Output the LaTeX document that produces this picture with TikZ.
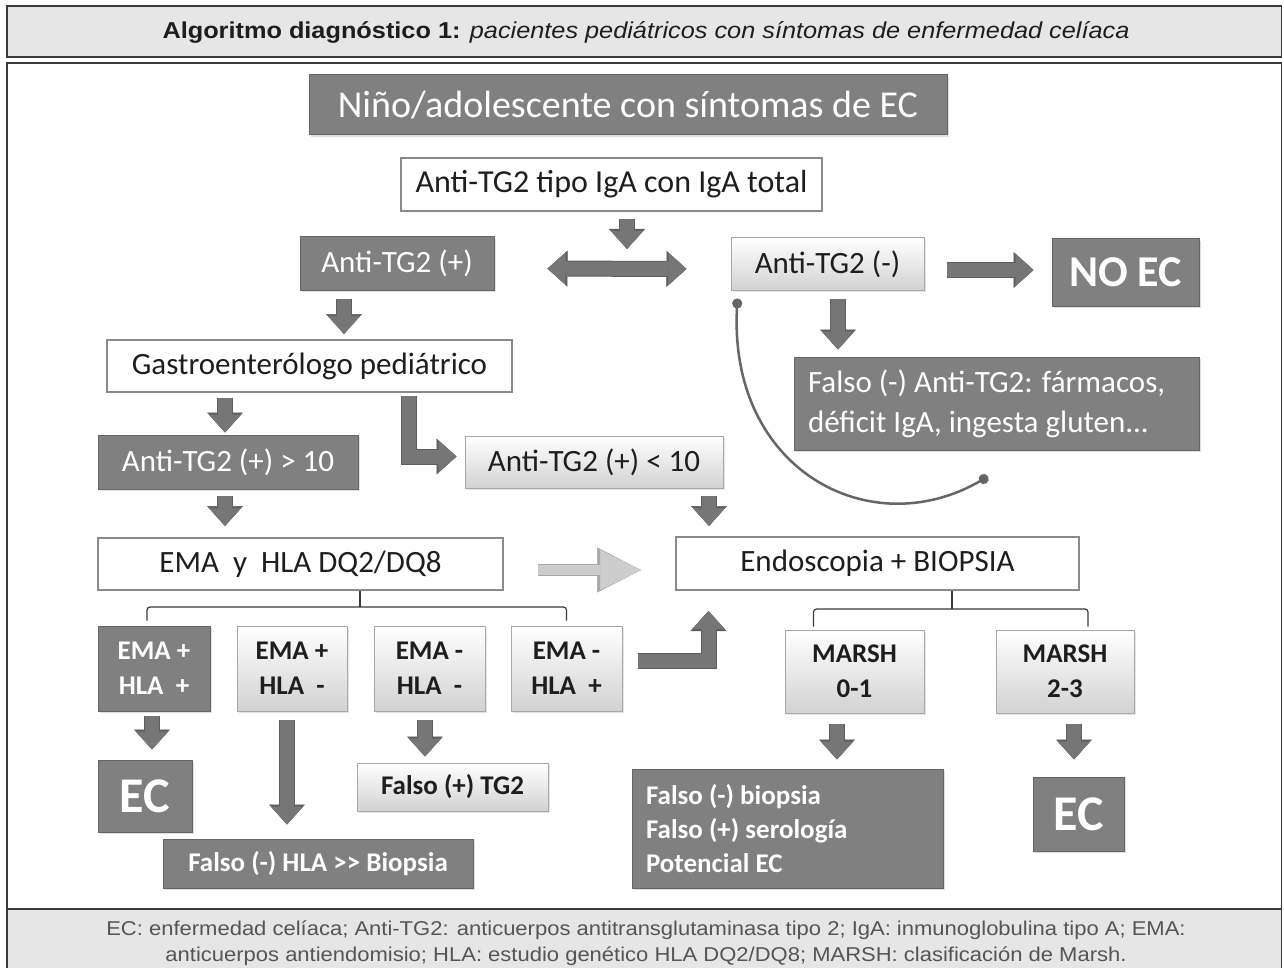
\documentclass[tikz,border=0pt]{standalone}
\usepackage{fontspec}
\setmainfont{Carlito}
\newfontfamily\headfont[FakeStretch=1.1]{Liberation Sans}
\newfontfamily\notefont[FakeStretch=1.1]{Liberation Sans}
\usetikzlibrary{arrows.meta,shadows}
\usepackage{xcolor}
\definecolor{darkfill}{HTML}{808080}
\definecolor{darkline}{HTML}{666666}
\definecolor{lightbot}{HTML}{D2D2D2}
\definecolor{lightline}{HTML}{A8A8A8}
\definecolor{whiteline}{HTML}{8A8A8A}
\definecolor{textdark}{HTML}{1E1E1E}
\definecolor{arrowfill}{HTML}{767676}
\definecolor{arrowline}{HTML}{5E5E5E}
\definecolor{lightarr}{HTML}{CDCDCD}
\definecolor{framegray}{HTML}{E6E6E6}
\definecolor{framedark}{HTML}{3A3A3A}
\definecolor{notegray}{HTML}{555555}
\definecolor{curvegray}{HTML}{666666}

\tikzset{
  box/.style={inner sep=0pt, font=\fontsize{31}{38}\selectfont},
  darkbox/.style={box, fill=darkfill, draw=darkline, line width=1pt, text=white,
    drop shadow={shadow xshift=1.5pt, shadow yshift=-2pt, opacity=.25}},
  lightbox/.style={box, top color=white, bottom color=lightbot, draw=lightline, line width=1pt, text=textdark,
    drop shadow={shadow xshift=1.5pt, shadow yshift=-2pt, opacity=.2}},
  whitebox/.style={box, fill=white, draw=whiteline, line width=2pt, text=textdark},
  boldtxt/.style={font=\fontsize{27}{35}\selectfont\bfseries},
  bigtxt/.style={font=\fontsize{50}{50}\selectfont\bfseries},
  blktip/.tip={Triangle[length=18pt 0 0, width=32pt 0 0, line width=0.5pt 0 0]},
  blkout/.tip={Triangle[length=20pt 0 0, width=36pt 0 0, line width=0.5pt 0 0]},
  blkbase/.style={draw=arrowfill, line width=14pt, line join=miter},
  blk/.style={blkbase, -blktip, preaction={draw=arrowline, line width=16pt, -blkout}},
  blk2/.style={blkbase, blktip-blktip, preaction={draw=arrowline, line width=16pt, blkout-blkout}},
  lblk/.style={draw=lightarr, line width=10pt, -{Triangle[length=41pt 0 0, width=40pt 0 0, line width=0.5pt 0 0]},
    preaction={draw=lightline, line width=12pt, -{Triangle[length=44pt 0 0, width=45pt 0 0, line width=0.5pt 0 0]}}},
  brk/.style={draw=framedark, line width=1.2pt, rounded corners=3pt},
  crv/.style={draw=curvegray, line width=2.5pt, {Circle[length=10pt 0 0]}-{Circle[length=10pt 0 0]}}
}

\begin{document}
\begin{tikzpicture}[x=1pt,y=-1pt]
	\useasboundingbox (0,0) rectangle (1284,968);
	\draw[fill=framegray, draw=framedark, line width=1.5pt] (7,6) rectangle (1281.5,57);
	\draw[fill=white, draw=framedark, line width=1.8pt] (7,63) rectangle (1281.5,909);
	\draw[fill=framegray, draw=framedark, line width=1.5pt] (7,980) -- (7,909) -- (1281.5,909) -- (1281.5,980);
	\node (title) [text=textdark, font=\headfont\fontsize{23}{27}\selectfont] at (646,32) {\textbf{Algoritmo diagnóstico 1:} \textit{pacientes pediátricos con síntomas de enfermedad celíaca}};
	\node (note) [text=notegray, align=center, font=\notefont\fontsize{20}{26}\selectfont] at (646,943) {EC: enfermedad celíaca; Anti-TG2: anticuerpos antitransglutaminasa tipo 2; IgA: inmunoglobulina tipo A; EMA:\\anticuerpos antiendomisio; HLA: estudio genético HLA DQ2/DQ8; MARSH: clasificación de Marsh.};

	\node (nino) [darkbox, font=\fontsize{38}{44}\selectfont, minimum width=638pt, minimum height=60pt] at (628,105) {Niño/adolescente con síntomas de EC};
	\node (tipo) [whitebox, font=\fontsize{32}{38}\selectfont, minimum width=421pt, minimum height=53pt] at (611.5,184.5) {Anti-TG2 tipo IgA con IgA total};
	\node (pos) [darkbox, minimum width=194pt, minimum height=53pt] at (397,263.5) {Anti-TG2 (+)};
	\node (neg) [lightbox, minimum width=193pt, minimum height=52pt] at (827.5,264) {Anti-TG2 (-)};
	\node (noec) [darkbox, font=\fontsize{44}{44}\selectfont\bfseries, minimum width=147pt, minimum height=67pt] at (1125.5,272.5) {NO EC};
	\node (falsoneg) [darkbox, font=\fontsize{31}{40}\selectfont, text width=377pt, align=flush left, minimum width=405pt, minimum height=93pt] at (996.5,403.5) {Falso (-) Anti-TG2: fármacos,\\déficit IgA, ingesta gluten...};
	\node (gastro) [whitebox, minimum width=405pt, minimum height=52pt] at (309.5,366) {Gastroenterólogo pediátrico};
	\node (gt10) [darkbox, minimum width=260pt, minimum height=54pt] at (228,462) {Anti-TG2 (+) > 10};
	\node (lt10) [lightbox, minimum width=258pt, minimum height=52pt] at (594,462) {Anti-TG2 (+) < 10};
	\node (ema) [whitebox, minimum width=405pt, minimum height=52pt] at (300.5,564) {EMA\ \ y\ \ HLA DQ2/DQ8};
	\node (endo) [whitebox, minimum width=403pt, minimum height=53pt] at (877.5,563.5) {Endoscopia + BIOPSIA};
	\node (e1) [darkbox, boldtxt, align=center, minimum width=112pt, minimum height=85pt] at (154,668.5) {EMA +\\HLA\ \ +};
	\node (e2) [lightbox, boldtxt, align=center, minimum width=110pt, minimum height=85pt] at (292,668.5) {EMA +\\HLA\ \ -};
	\node (e3) [lightbox, boldtxt, align=center, minimum width=111pt, minimum height=85pt] at (429.5,668.5) {EMA -\\HLA\ \ -};
	\node (e4) [lightbox, boldtxt, align=center, minimum width=111pt, minimum height=85pt] at (566.5,668.5) {EMA -\\HLA\ \ +};
	\node (m01) [lightbox, boldtxt, align=center, minimum width=139pt, minimum height=83pt] at (854.5,671.5) {MARSH\\0-1};
	\node (m23) [lightbox, boldtxt, align=center, minimum width=138pt, minimum height=83pt] at (1065,671.5) {MARSH\\2-3};
	\node (ecl) [darkbox, bigtxt, minimum width=94pt, minimum height=72pt] at (145,796) {EC};
	\node (ftg2) [lightbox, boldtxt, minimum width=191pt, minimum height=48pt] at (452.5,787) {Falso (+) TG2};
	\node (fhla) [darkbox, boldtxt, minimum width=310pt, minimum height=49pt] at (318,863.5) {Falso (-) HLA {>}{>} Biopsia};
	\node (fbio) [darkbox, font=\fontsize{27}{34}\selectfont\bfseries, text width=283pt, align=flush left, minimum width=311pt, minimum height=119pt] at (787.5,828.5) {Falso (-) biopsia\\Falso (+) serología\\Potencial EC};
	\node (ecr) [darkbox, bigtxt, minimum width=91pt, minimum height=74pt] at (1078.5,814) {EC};

	\coordinate (split) at (627,249);
	\coordinate (embr) at (360,607);
	\coordinate (enbr) at (952,609);
	\draw[blk, shorten <=7pt] (tipo.south -| split) -- (split);
	\draw[blk2, shorten <=53pt, shorten >=44pt] ([yshift=-5pt]pos.east) -- ([yshift=-5pt]neg.west);
	\draw[blk, shorten <=22pt, shorten >=18pt] ([yshift=-6pt]neg.east) -- ([yshift=2.5pt]noec.west);
	\draw[blk, shorten <=8pt, shorten >=7pt] ([xshift=10.5pt]neg.south) -- ([xshift=-158.5pt]falsoneg.north);
	\draw[blk, shorten <=8pt, shorten >=5pt] ([xshift=-53pt]pos.south) -- ([xshift=34.5pt]gastro.north);
	\draw[blk, shorten <=5pt, shorten >=2pt] ([xshift=-84.5pt]gastro.south) -- ([xshift=-3pt]gt10.north);
	\draw[blk, shorten <=3pt, shorten >=8pt] ([xshift=99pt]gastro.south) |- ([yshift=5.5pt]lt10.west);
	\draw[blk, shorten <=6pt, shorten >=11pt] ([xshift=-3pt]gt10.south) -- ([xshift=-75.5pt]ema.north);
	\draw[blk, shorten <=7pt, shorten >=10pt] ([xshift=115pt]lt10.south) -- ([xshift=-168.5pt]endo.north);
	\draw[lblk, shorten <=34pt, shorten >=34pt] ([yshift=-6pt]ema.east) -- ([yshift=-6.5pt]endo.west);
	\draw[blk, shorten <=15pt, shorten >=20pt] ([yshift=7.5pt]e4.east) -| ([xshift=-169pt]endo.south);
	\draw[blk, shorten <=4pt, shorten >=10pt] ([xshift=-2pt]e1.south) -- ([xshift=7pt]ecl.north);
	\draw[blk, shorten <=8pt, shorten >=14pt] ([xshift=-5pt]e2.south) -- ([xshift=-31pt]fhla.north);
	\draw[blk, shorten <=8pt, shorten >=6pt] ([xshift=-4.5pt]e3.south) -- ([xshift=-27.5pt]ftg2.north);
	\draw[blk, shorten <=10pt, shorten >=9pt] ([xshift=-17.5pt]m01.south) -- ([xshift=49.5pt]fbio.north);
	\draw[blk, shorten <=10pt, shorten >=17pt] ([xshift=9pt]m23.south) -- ([xshift=-4.5pt]ecr.north);
	\draw[brk] (ema.south -| embr) -- (embr);
	\draw[brk] ([xshift=-7pt,yshift=5pt]e1.north) |- (embr) -| ([yshift=5pt]e4.north);
	\draw[brk] (endo.south -| enbr) -- (enbr);
	\draw[brk] ([xshift=-41pt,yshift=3pt]m01.north) |- (enbr) -| ([xshift=23pt,yshift=3pt]m23.north);
	\draw[crv] ([shift={(7pt,-8pt)}]neg.south west) .. controls (728,470) and (870,545) .. ([shift={(-8.5pt,-26pt)}]falsoneg.south);
\end{tikzpicture}
\end{document}
